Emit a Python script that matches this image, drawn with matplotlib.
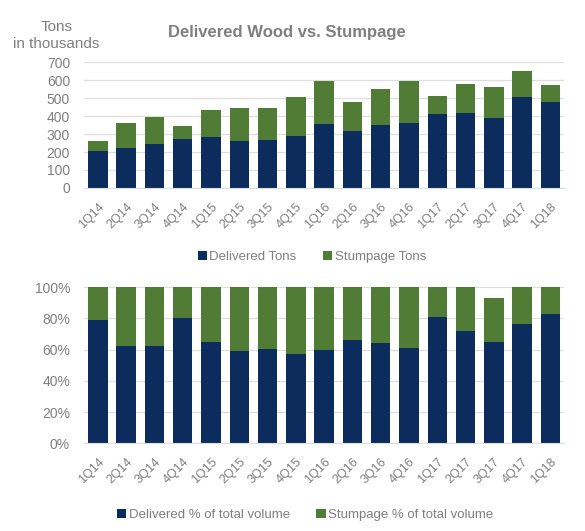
import numpy as np
import matplotlib
matplotlib.use("Agg")
import matplotlib.pyplot as plt
from matplotlib.ticker import PercentFormatter

plt.rcParams["font.family"] = ["Liberation Sans", "DejaVu Sans"]

quarters = ["1Q14", "2Q14", "3Q14", "4Q14", "1Q15", "2Q15", "3Q15", "4Q15", "1Q16",
            "2Q16", "3Q16", "4Q16", "1Q17", "2Q17", "3Q17", "4Q17", "1Q18"]
delivered_tons = [208, 225, 245, 274, 284, 263, 269, 291, 357,
                  317, 352, 363, 413, 419, 391, 507, 478]
stumpage_tons = [53, 136, 151, 70, 152, 184, 175, 217, 240,
                 162, 200, 230, 97, 162, 170, 145, 97]
delivered_pct = [79, 62.5, 62, 80, 65, 59, 60.5, 57, 60,
                 66, 64, 61, 81, 72, 65, 76.5, 83]
stumpage_pct = [21, 37.5, 38, 20, 35, 41, 39.5, 43, 40,
                34, 36, 39, 19, 28, 28, 23.5, 17]

NAVY = "#0b2c5c"
GREEN = "#507c36"
GRAY = "#7f7f7f"
GRID = "#dedede"

fig = plt.figure(figsize=(5.85, 5.31), dpi=100)
ax1 = fig.add_axes([0.1436, 0.646, 0.8205, 0.237])
ax2 = fig.add_axes([0.1436, 0.1648, 0.8205, 0.2947])

x = np.arange(len(quarters))
w = 0.69


def style(ax):
    for s in ["top", "right", "left"]:
        ax.spines[s].set_visible(False)
    ax.spines["bottom"].set_color(GRID)
    ax.grid(axis="y", color=GRID, lw=0.9)
    ax.set_axisbelow(True)
    ax.tick_params(axis="y", length=0, labelsize=10, labelcolor=GRAY, pad=10)
    ax.tick_params(axis="x", length=0, labelsize=9, labelcolor=GRAY, pad=9)
    ax.set_xticks(x)
    ax.set_xticklabels(quarters, rotation=45, ha="right", rotation_mode="anchor")
    ax.set_xlim(-0.49, 16.48)


# top chart
ax1.bar(x, delivered_tons, w, color=NAVY, label="Delivered Tons")
ax1.bar(x, stumpage_tons, w, bottom=delivered_tons, color=GREEN, label="Stumpage Tons")
style(ax1)
ax1.set_ylim(0, 700)
ax1.set_yticks(range(0, 701, 100))
ax1.legend(loc="center", bbox_to_anchor=(0.475, -0.546), ncol=2, frameon=False,
           fontsize=9.5, labelcolor=GRAY, handlelength=0.7, handleheight=0.7,
           handletextpad=0.2, columnspacing=2.0)
fig.text(0.096, 0.949, "Tons", ha="center", va="center", fontsize=11, color=GRAY)
fig.text(0.096, 0.918, "in thousands", ha="center", va="center", fontsize=11, color=GRAY)
fig.text(0.49, 0.938, "Delivered Wood vs. Stumpage", ha="center", va="center",
         fontsize=12, fontweight="bold", color=GRAY)

# bottom chart
ax2.bar(x, delivered_pct, w, color=NAVY, label="Delivered % of total volume")
ax2.bar(x, stumpage_pct, w, bottom=delivered_pct, color=GREEN,
        label="Stumpage % of total volume")
style(ax2)
ax2.set_ylim(0, 100)
ax2.set_yticks(range(0, 101, 20))
ax2.yaxis.set_major_formatter(PercentFormatter(decimals=0))
ax2.legend(loc="center", bbox_to_anchor=(0.461, -0.457), ncol=2, frameon=False,
           fontsize=9.5, labelcolor=GRAY, handlelength=0.7, handleheight=0.7,
           handletextpad=0.2, columnspacing=2.0)

fig.savefig("out.png", dpi=100)
